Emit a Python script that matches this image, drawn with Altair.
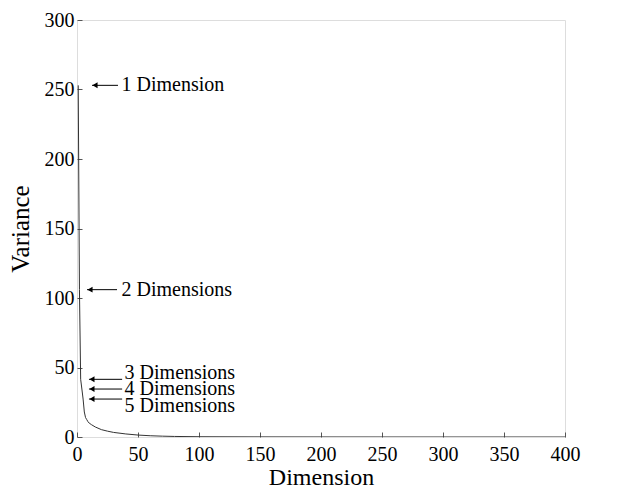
import altair as alt
import pandas as pd

# Curve (variance per dimension)
dims = [1, 2, 3, 4, 5, 6, 7, 8, 9, 10, 12, 15, 20, 25, 30, 40, 50, 60, 70, 80, 100, 150, 200, 250, 300, 350, 400]
variance = [253, 106, 41.5, 34.5, 27.3, 18, 14, 12.5, 11, 10, 8.8, 7.2, 5.3, 4.2, 3.3, 2.2, 1.4, 0.9, 0.6, 0.4, 0.2, 0.08, 0.04, 0.02, 0.01, 0.005, 0.0]

# Annotations
ann_labels = ["1 Dimension", "2 Dimensions", "3 Dimensions", "4 Dimensions", "5 Dimensions"]
ann_y = [253, 106, 41.5, 34.5, 27.3]
ann_text_y = [253, 106, 45.8, 34.5, 22.0]
ann_x_head = [12.3, 8.2, 9.8, 9.8, 9.8]
ann_x_tail = [33.6, 32.8, 37.0, 37.0, 37.0]
ann_text_x = [36.5, 36.5, 39.0, 39.0, 39.0]

x_ticks = [0, 50, 100, 150, 200, 250, 300, 350, 400]
y_ticks = [0, 50, 100, 150, 200, 250, 300]

curve = pd.DataFrame({"Dimension": dims, "Variance": variance})
ann = pd.DataFrame({
    "label": ann_labels, "y": ann_y, "ty": ann_text_y,
    "xh": ann_x_head, "xt": ann_x_tail, "tx": ann_text_x,
})

FONT = "Liberation Serif"

xscale = alt.Scale(domain=[0, 400], nice=False)
yscale = alt.Scale(domain=[0, 300], nice=False)

xaxis = alt.Axis(values=x_ticks, title="Dimension", grid=False, domain=False,
                 offset=-5, tickSize=5, labelPadding=7, titlePadding=1,
                 labelFontSize=20, titleFontSize=24, labelFont=FONT, titleFont=FONT,
                 labelColor="black", titleColor="black", tickColor="#555",
                 titleFontWeight="normal", labelFlush=False)
yaxis = alt.Axis(values=y_ticks, title="Variance", grid=False, domain=False,
                 offset=-5, tickSize=5, labelPadding=3, titlePadding=11,
                 labelFontSize=20, titleFontSize=25, labelFont=FONT, titleFont=FONT,
                 labelColor="black", titleColor="black", tickColor="#555",
                 titleFontWeight="normal", labelFlush=False)

line = alt.Chart(curve).mark_line(color="#333", strokeWidth=1, clip=True).encode(
    x=alt.X("Dimension:Q", scale=xscale, axis=xaxis),
    y=alt.Y("Variance:Q", scale=yscale, axis=yaxis),
)

rules = alt.Chart(ann).mark_rule(color="black", strokeWidth=1).encode(
    x=alt.X("xh:Q", scale=xscale),
    x2="xt:Q",
    y=alt.Y("y:Q", scale=yscale),
)

heads = alt.Chart(ann).mark_point(shape="triangle-left", filled=True, color="black",
                                  size=35, opacity=1, xOffset=3).encode(
    x=alt.X("xh:Q", scale=xscale),
    y=alt.Y("y:Q", scale=yscale),
)

texts = alt.Chart(ann).mark_text(align="left", baseline="middle", font=FONT,
                                 fontSize=20, color="black").encode(
    x=alt.X("tx:Q", scale=xscale),
    y=alt.Y("ty:Q", scale=yscale),
    text="label:N",
)

chart = alt.layer(line, rules, heads, texts).properties(
    width=488, height=417,
    padding={"left": 0, "top": 2, "right": 5, "bottom": 0},
).configure_view(stroke="#555", strokeWidth=1).configure(background="white")

chart.save("out.html", embed_options={"renderer": "svg", "actions": False})
